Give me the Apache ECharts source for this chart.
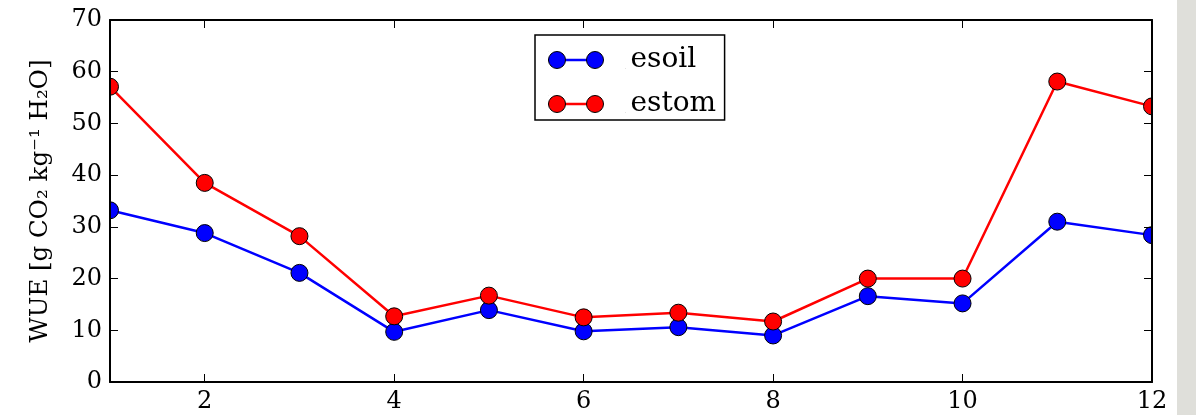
<!DOCTYPE html>
<html><head><meta charset="utf-8">
<script src="https://cdn.jsdelivr.net/npm/echarts@6/dist/echarts.min.js"></script>
<style>html,body{margin:0;padding:0;background:#fff}#c{width:1196px;height:415px}</style>
</head><body><div id="c"></div>
<script>
const months = [1,2,3,4,5,6,7,8,9,10,11,12];
const esoil = [33.2,28.8,21.1,9.7,13.9,9.8,10.6,9.0,16.6,15.2,31.0,28.4];
const estom = [57.1,38.5,28.2,12.7,16.7,12.5,13.4,11.7,20.0,20.0,58.1,53.3];
const xTicks = [2,4,6,8,10,12];
const seriesNames = ['esoil','estom'];
const seriesColors = ['#0000ff','#ff0000'];
const yName = 'WUE [g CO\u2082 kg\u207B\u00B9 H\u2082O]';

const FONT = '"DejaVu Serif", serif';
// legend icon box: 77 x 17 (two circles + connecting line occupy the first 55px)
const circlesPath = 'path://M0,8.5 A8.5,8.5 0 1 1 17,8.5 A8.5,8.5 0 1 1 0,8.5 Z M38,8.5 A8.5,8.5 0 1 1 55,8.5 A8.5,8.5 0 1 1 38,8.5 Z M76.98,16.98 L77,16.98 L77,17 L76.98,17 Z M0,0 L0.02,0 L0.02,0.02 L0,0.02 Z';
const linePath = 'path://M0,0 L0.02,0 L0.02,0.02 L0,0.02 Z M0,7.3 L55,7.3 L55,9.7 L0,9.7 Z M76.98,16.98 L77,16.98 L77,17 L76.98,17 Z';

const axisLine = {show:true, onZero:false, lineStyle:{color:'#000', width:2}};
const tick = {show:true, inside:true, length:8, lineStyle:{color:'#000', width:1}};

const legendCommon = {
  orient:'vertical', left:535, top:35, padding:[11,9,2,13], itemGap:16,
  itemWidth:77, itemHeight:17, selectedMode:false, data:seriesNames
};

const chart = echarts.init(document.getElementById('c'));
chart.setOption({
  animation:false,
  backgroundColor:'#fff',
  grid:{left:110, right:44, top:20, bottom:33},
  xAxis:[
    {type:'value', min:1, max:12, position:'bottom', z:5, axisLine,
     axisTick:Object.assign({customValues:xTicks}, tick),
     axisLabel:{customValues:xTicks, color:'#000', fontFamily:FONT, fontSize:24, margin:8},
     splitLine:{show:false}},
    {type:'value', min:1, max:12, position:'top', z:5, axisLine,
     axisTick:Object.assign({customValues:xTicks}, tick),
     axisLabel:{show:false}, splitLine:{show:false}}
  ],
  yAxis:[
    {type:'value', min:0, max:70, interval:10, position:'left', z:5, axisLine, axisTick:tick,
     axisLabel:{color:'#000', fontFamily:FONT, fontSize:24, margin:8},
     splitLine:{show:false},
     name:yName, nameLocation:'middle', nameGap:57,
     nameTextStyle:{color:'#000', fontFamily:FONT, fontSize:24.5}},
    {type:'value', min:0, max:70, interval:10, position:'right', z:5, axisLine, axisTick:tick,
     axisLabel:{show:false}, splitLine:{show:false}}
  ],
  legend:[
    Object.assign({}, legendCommon, {
      z:4, icon:linePath, itemStyle:{borderWidth:0},
      textStyle:{color:'rgba(0,0,0,0)', fontFamily:FONT, fontSize:28},
      backgroundColor:'#fff', borderColor:'#000', borderWidth:1.5, borderRadius:0
    }),
    Object.assign({}, legendCommon, {
      z:6, icon:circlesPath, itemStyle:{borderColor:'#000', borderWidth:1},
      textStyle:{color:'#000', fontFamily:FONT, fontSize:28},
      backgroundColor:'transparent', borderWidth:0
    })
  ],
  graphic:[
    {type:'rect', z:3, silent:true, shape:{x:0, y:0, width:109, height:415}, style:{fill:'#fff'}},
    {type:'rect', z:3, silent:true, shape:{x:1153, y:0, width:43, height:415}, style:{fill:'#fff'}},
    {type:'rect', z:3, silent:true, shape:{x:1177, y:0, width:19, height:415}, style:{fill:'#dfdfda'}}
  ],
  series:[
    {name:seriesNames[0], type:'line', z:2, symbol:'circle', symbolSize:17,
     data:months.map((m,i)=>[m, esoil[i]]),
     itemStyle:{color:seriesColors[0], borderColor:'#000', borderWidth:1},
     lineStyle:{color:seriesColors[0], width:2.5}, emphasis:{disabled:true}},
    {name:seriesNames[1], type:'line', z:2, symbol:'circle', symbolSize:17,
     data:months.map((m,i)=>[m, estom[i]]),
     itemStyle:{color:seriesColors[1], borderColor:'#000', borderWidth:1},
     lineStyle:{color:seriesColors[1], width:2.5}, emphasis:{disabled:true}}
  ]
});
</script></body></html>
